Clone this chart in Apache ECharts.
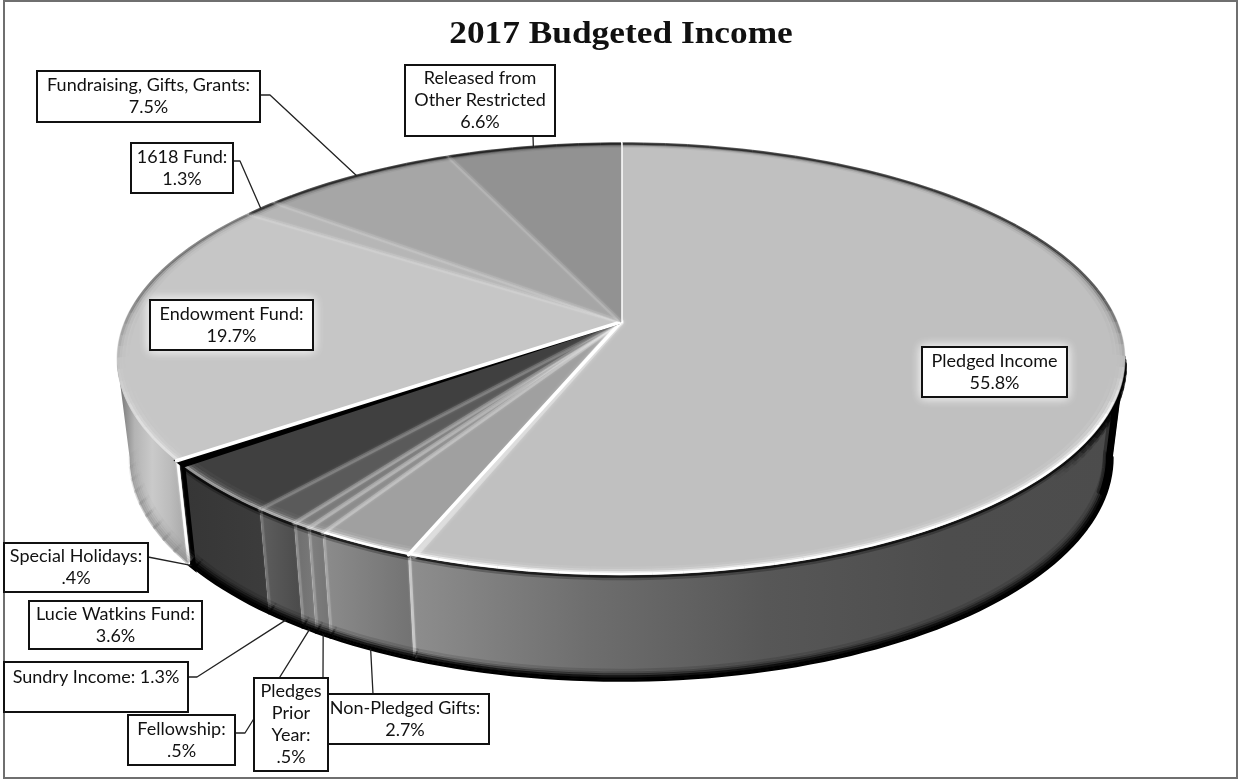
<!DOCTYPE html>
<html>
<head>
<meta charset="utf-8">
<style>html,body{margin:0;padding:0;background:#fff}#chart{width:1239px;height:782px}</style>
<script src="https://cdn.jsdelivr.net/npm/echarts@6/dist/echarts.min.js"></script>
</head>
<body>
<div id="chart"></div>
<script>
// Budget lines, clockwise from twelve o'clock, with their share of income in percent.
const chartTitle = '2017 Budgeted Income';
const sliceNames = [
  'Pledged Income', 'Non-Pledged Gifts:', 'Pledges\nPrior\nYear:', 'Fellowship:',
  'Sundry Income:', 'Lucie Watkins Fund:', 'Special Holidays:', 'Endowment Fund:',
  '1618 Fund:', 'Fundraising, Gifts, Grants:', 'Released from\nOther Restricted'
];
const sliceShares = [55.8, 2.7, 0.5, 0.5, 1.3, 3.6, 0.4, 19.7, 1.3, 7.5, 6.6];

// Face tone of each slice.
const topTones = ['#c0c0c0', '#a0a0a0', '#8c8c8c', '#7a7a7a', '#5a5a5a', '#404040', '#000000', '#c6c6c6', '#b6b6b6', '#a6a6a6', '#929292'];
// Side wall ramps, left to right.
const wallRamps = [
  ['#8e8e8e', '#6e6e6e', '#575757', '#4d4d4d', '#4c4c4c'],
  ['#8c8c8c', '#727272'],
  ['#808080', '#747474'],
  ['#6e6e6e', '#7a7a7a'],
  ['#5e5e5e', '#4a4a4a'],
  ['#363636', '#3c3c3c'],
  ['#000000', '#000000'],
  ['#6a6a6a', '#b4b4b4', '#cacaca', '#bcbcbc', '#a6a6a6'],
  ['#000000', '#000000'], ['#000000', '#000000'], ['#000000', '#000000']
];
// Strength of the pale bevel along each slice's leading edge.
const edgeGlow = [1, 1, 0.22, 0.22, 0.2, 0.15, 0, 1, 0.1, 0.1, 0.1];

// Callout boxes, with the elbow a leader leaves from (no elbow: no leader).
const calloutBoxes = [
  { x: 922, y: 347, w: 145, h: 50, glow: true },
  { x: 320, y: 694, w: 169, h: 50, elbow: [[373, 694]], textX: 405 },
  { x: 254, y: 678, w: 74, h: 93, elbow: [[323, 678]] },
  { x: 128, y: 715, w: 107, h: 50, elbow: [[235, 733], [245, 733]] },
  { x: 4, y: 662, w: 184, h: 50, elbow: [[188, 677], [197, 677]], inline: true },
  { x: 29, y: 601, w: 173, h: 48 },
  { x: 4, y: 543, w: 144, h: 49, elbow: [[148, 557]] },
  { x: 150, y: 300, w: 163, h: 50, glow: true },
  { x: 131, y: 143, w: 102, h: 50, elbow: [[233, 161], [240, 161]] },
  { x: 37, y: 71, w: 223, h: 51, elbow: [[260, 95], [270, 95]] },
  { x: 405, y: 65, w: 150, h: 71, elbow: [[533, 136]] }
];

// Perspective of the tilted disc.
const PIE = {
  cx: 621, apexY: 322, rx: 496.6, ry: 209.6, persp: 0.171,
  baseX: 0.975, baseY: 1.033, baseCy: 419.4,
  silhouette: 99.8
};
const shareTotal = sliceShares.reduce((a, b) => a + b, 0);
const sliceStart = [];
sliceShares.reduce((sum, v, i) => { sliceStart[i] = sum / shareTotal * 360; return sum + v; }, 0);
const sliceEnd = i => sliceStart[i] + sliceShares[i] / shareTotal * 360;

function onTop(deg, r) {
  const a = deg * Math.PI / 180, X = r * Math.sin(a), Y = -r * Math.cos(a), s = 1 / (1 - PIE.persp * Y);
  return [PIE.cx + PIE.rx * X * s, PIE.apexY + PIE.ry * Y * s];
}
function onBase(deg, r) {
  const a = deg * Math.PI / 180, X = r * Math.sin(a), Y = -r * Math.cos(a), s = 1 / (1 - PIE.persp * Y);
  return [PIE.cx + PIE.rx * PIE.baseX * X * s, PIE.baseCy + PIE.ry * PIE.baseY * Y * s];
}
function arc(fn, from, to, r) {
  const n = Math.max(2, Math.ceil(Math.abs(to - from) / 1.5)), pts = [];
  for (let i = 0; i <= n; i++) pts.push(fn(from + (to - from) * i / n, r));
  return pts;
}
const valueText = v => (v < 1 ? String(v).replace(/^0/, '') : String(v)) + '%';
const line = (points, stroke, lineWidth, opacity, blur) => ({
  type: 'polyline', silent: true, shape: { points },
  style: { stroke, fill: 'none', lineWidth, opacity: opacity === undefined ? 1 : opacity, shadowBlur: blur || 0, shadowColor: stroke, lineJoin: 'round', lineCap: 'round' }
});

// Side wall of a slice: only the part facing the viewer exists.
function renderWall(params, api) {
  const i = params.dataIndex;
  api.value(0);
  const from = Math.max(sliceStart[i], PIE.silhouette), to = Math.min(sliceEnd(i), 360 - PIE.silhouette);
  if (to <= from) return { type: 'group', children: [] };
  const ramp = wallRamps[i];
  const stops = ramp.map((c, k) => ({ offset: k / (ramp.length - 1), color: c }));
  const topEdge = arc(onTop, from, to, 1), baseEdge = arc(onBase, from, to, 1);
  const isLight = i === 7, isSliver = i === 6;
  const children = [{
    type: 'polygon', silent: true,
    shape: { points: topEdge.concat(baseEdge.slice().reverse()) },
    style: Object.assign(
      { fill: new echarts.graphic.LinearGradient(0, 0, 1, 0, stops) },
      isSliver ? { stroke: '#000000', lineWidth: 4 } : {})
  }];
  // pale cut face at the slice's leading edge, then a dark shadow along rim and foot
  const leadTop = onTop(sliceStart[i], 1), leadBase = onBase(sliceStart[i], 1);
  if (sliceStart[i] >= PIE.silhouette && edgeGlow[i] > 0) {
    children.push(line([[leadTop[0] + 1, leadTop[1]], [leadBase[0] + 1, leadBase[1] - 3]], '#ffffff', 3, i === 1 ? 0.32 : edgeGlow[i] * 0.6, 2));
  }
  const foot = isLight ? '#8a8a8a' : '#000000';
  const footSteps = [[0, 2.5, 1], [1.5, 2.5, 1], [3, 2.5, 0.8], [4.5, 2.5, 0.5], [6, 2.5, 0.28], [8, 2.5, 0.12]];
  footSteps.forEach(([d, w, o]) => {
    if (isLight) {
      // the pale wall's foot melts away towards the silhouette
      for (let s = from; s < to; s += 3) {
        const fade = Math.min(1, (to - s) / 18);
        const pts = arc(onBase, s, s + 3.2, 1 - d * 0.002).map(p => [p[0], p[1] - d * 0.7]);
        children.push(line(pts, foot, w, o * 0.5 * fade));
      }
    } else {
      children.push(line(arc(onBase, from, to, 1 - d * 0.002).map(p => [p[0], p[1] - d * 0.7]), foot, w, o));
    }
  });
  if (!isLight) {
    [[1.5, 3, 0.75], [4, 3, 0.25]].forEach(([d, w, o]) => {
      children.push(line(topEdge.map(p => [p[0], p[1] + d]), '#000000', w, o));
    });
  }
  if (isSliver) children.push(line([onTop(sliceEnd(i), 1), onBase(sliceEnd(i), 1)], '#ffffff', 5));
  if (i === 0) {
    // dark turn of the wall at the right-hand silhouette, carried round into the foot
    const turn = [onTop(PIE.silhouette, 1)].concat(arc(onBase, PIE.silhouette, PIE.silhouette + 9, 1));
    children.push(line(turn.map(p => [p[0] - 3, p[1] - 1]), '#000000', 7));
    children.push(line(turn.map(p => [p[0] - 7, p[1] - 2]), '#000000', 5, 0.35));
    const span = 28;
    for (let d = PIE.silhouette; d < PIE.silhouette + span; d += 2) {
      const fade = 1 - (d - PIE.silhouette) / span;
      const seg = arc(onTop, d, d + 2.2, 1);
      children.push(line(seg.map(p => [p[0] - 1, p[1] + 6]), '#000000', 6, 0.8 * fade));
      children.push(line(seg.map(p => [p[0] - 2, p[1] + 11]), '#000000', 5, 0.35 * fade));
    }
  }
  return { type: 'group', children };
}

// Rim light of the top face: dark towards the back, bright on the near side.
function rimTone(deg, i) {
  const Y = -Math.cos(deg * Math.PI / 180);
  if (Y > 0.2) return ['#ffffff', Math.min(1, (Y - 0.2) / 0.25) * (i === 7 ? 0.45 : i >= 2 && i <= 6 ? 0.45 : 1)];
  const back = Math.min(1, (0.2 - Y) / 0.3);
  return ['#000000', back * (i === 7 ? 0.32 : Math.min(0.6, 0.4 + (0.2 - Y) * 0.3))];
}
function renderTop(params, api) {
  const i = params.dataIndex;
  api.value(0);
  const from = sliceStart[i], to = sliceEnd(i);
  const apex = onTop(0, 0);
  const sliverStroke = i === 6 ? 3 : 0.5;
  const children = [{
    type: 'polygon', silent: true,
    shape: { points: [apex].concat(arc(onTop, from, to, 1)) },
    style: { fill: topTones[i], stroke: topTones[i], lineWidth: sliverStroke }
  }];
  for (let d = from; d < to; d += 3) {
    const e = Math.min(d + 3, to), [tone, a] = rimTone((d + e) / 2, i);
    if (i === 6) continue;
    [[0.997, 2.5, 1], [0.992, 2.5, 0.5], [0.986, 3, 0.2], [0.978, 3, 0.07]].forEach(([r, w, o]) => {
      const seg = line(arc(onTop, d, e, r), tone, w, a * o);
      seg.style.lineCap = 'butt';
      children.push(seg);
    });
  }
  if (edgeGlow[i] > 0) {
    const edge = [apex, onTop(from, 1)];
    if (i === 1) {
      // soft highlight running into the big slice beside this edge
      children.push(line([apex, onTop(from - 0.6, 1)], '#ffffff', 6, 0.3, 4));
    }
    children.push(line(edge, '#ffffff', edgeGlow[i] === 1 ? 3.5 : 4, edgeGlow[i], edgeGlow[i] === 1 ? 0 : 3));
  }
  return { type: 'group', children };
}

// Leader from the slice's rim to its box elbow.
function renderLeader(params, api) {
  const i = params.dataIndex;
  api.value(0);
  const box = calloutBoxes[i];
  if (!box.elbow) return { type: 'group', children: [] };
  const mid = (sliceStart[i] + sliceEnd(i)) / 2;
  const front = mid > PIE.silhouette && mid < 360 - PIE.silhouette;
  const tip = front ? onBase(mid, 1) : onTop(mid, 1);
  return { type: 'group', children: [line(box.elbow.concat([tip]), '#222222', 1.3)] };
}

function renderBox(params, api) {
  const i = params.dataIndex, v = api.value(0), b = calloutBoxes[i];
  const text = b.inline ? sliceNames[i] + ' ' + valueText(v) : sliceNames[i] + '\n' + valueText(v);
  const tx = b.textX || b.x + b.w / 2;
  return {
    type: 'group',
    children: [
      {
        type: 'rect', silent: true,
        shape: { x: b.x, y: b.y, width: b.w, height: b.h },
        style: Object.assign({ fill: '#ffffff', stroke: '#111111', lineWidth: 2 },
          b.glow ? { shadowBlur: 10, shadowColor: '#ffffff' } : {})
      },
      {
        type: 'text', silent: true,
        style: {
          x: tx, y: b.inline ? b.y + 15 : b.y + b.h / 2, text,
          fill: '#111111', font: '18px Lato', lineHeight: 22,
          align: 'center', verticalAlign: 'middle'
        }
      }
    ]
  };
}

const seriesOf = (renderItem, z) => ({
  type: 'custom', coordinateSystem: 'none', renderItem, z, silent: true,
  animation: false, clip: false, data: sliceShares.map(v => [v])
});

const chart = echarts.init(document.getElementById('chart'));
chart.setOption({
  animation: false,
  backgroundColor: '#ffffff',
  graphic: [
    {
      type: 'rect', silent: true, z: 0,
      shape: { x: 4, y: 1, width: 1233, height: 777 },
      style: { fill: 'none', stroke: '#6f6f6f', lineWidth: 2 }
    },
    {
      // broad old-style title: a serif widened to the heading's measure
      type: 'text', silent: true, z: 5,
      x: 621, y: 35, originX: 0, originY: 0, scaleX: 1.14,
      style: {
        text: chartTitle, align: 'center', verticalAlign: 'middle',
        font: 'bold 31px "Liberation Serif"', fill: '#111111'
      }
    }
  ],
  series: [
    seriesOf(renderWall, 1),
    seriesOf(renderTop, 2),
    seriesOf(renderLeader, 3),
    seriesOf(renderBox, 4)
  ]
});
</script>
</body>
</html>
